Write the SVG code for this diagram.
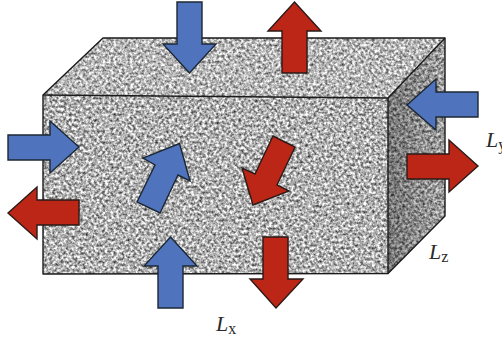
<svg xmlns="http://www.w3.org/2000/svg" width="502" height="343" viewBox="0 0 502 343">
<style>
.blue{fill:#4f74bd;stroke:#1d2733;stroke-width:1.4;stroke-linejoin:miter}
.red{fill:#bb2617;stroke:#2a1a18;stroke-width:1.4;stroke-linejoin:miter}
.edge{stroke:#1a1a1a;stroke-width:1.4;stroke-linejoin:round}
.lab{font-family:"Liberation Serif",serif;font-size:22px;font-style:italic;fill:#2a2a2a}
.sub{font-size:16px;font-style:normal}
</style>
<defs>
<filter id="grain" x="0" y="0" width="100%" height="100%" color-interpolation-filters="sRGB">
<feTurbulence type="fractalNoise" baseFrequency="0.36" numOctaves="2" seed="7"/>
<feColorMatrix type="matrix" values="1.35 0 0 0 0.02  1.35 0 0 0 0.02  1.35 0 0 0 0.02  0 0 0 0 1"/>
<feGaussianBlur stdDeviation="0.7"/>
</filter>
<linearGradient id="side" x1="0" y1="0" x2="1" y2="0">
<stop offset="0" stop-color="#000" stop-opacity="0.34"/>
<stop offset="1" stop-color="#000" stop-opacity="0.1"/>
</linearGradient>
<clipPath id="box"><polygon points="43,95 103,38 445,38 445,216 388,273.5 43,274"/></clipPath>
</defs>
<g id="block">
<g clip-path="url(#box)"><rect x="40" y="35" width="408" height="242" filter="url(#grain)"/></g>
<polygon id="top-face" points="43,95 103,38 445,38 388,98" fill="#fff" fill-opacity="0.08"/>
<polygon id="side-face" points="388,98 445,38 445,216 388,273.5" fill="url(#side)"/>
<polygon class="edge" fill="none" points="43,95 103,38 445,38 445,216 388,273.5 43,274"/>
<path class="edge" fill="none" d="M43,95 L388,98 L388,273.5 M388,98 L445,38"/>
</g>
<g id="connectors">
<polygon id="arrow-top-in" class="blue" points="177,2 202,2 202,44 216,44 189.5,73 163,44 177,44"/>
<polygon id="arrow-top-out" class="red" points="294.5,2 321,31 307,31 307,73 282,73 282,31 268,31"/>
<polygon id="arrow-right-in" class="blue" points="407,105 436,79 436,92 478,92 478,117 436,117 436,130"/>
<polygon id="arrow-right-out" class="red" points="407,154 449,154 449,140 478,166 449,192 449,179 407,179"/>
<polygon id="arrow-left-in" class="blue" points="8,135 50,135 50,121 79,147 50,173 50,160 8,160"/>
<polygon id="arrow-left-out" class="red" points="8,213 37,187 37,200 79,200 79,225 37,225 37,239"/>
<polygon id="arrow-bottom-in" class="blue" points="170.5,237 197,266 183,266 183,308 158,308 158,266 144,266"/>
<polygon id="arrow-bottom-out" class="red" points="263,237 288,237 288,279 303,279 276,308 250,279 263,279"/>
<polygon id="arrow-diag-in" class="blue" points="179.5,143.5 190,181 178,175 160,213 137,202 155,165 143,158"/>
<polygon id="arrow-diag-out" class="red" points="273,136 295,147 277,185 289,191 253,205 242,168 255,174"/>
</g>
<g id="label-x"><text class="lab" x="216" y="331">L<tspan class="sub" dy="3">x</tspan></text></g>
<g id="label-y"><text class="lab" x="486" y="147">L<tspan class="sub" dy="3">y</tspan></text></g>
<g id="label-z"><text class="lab" x="429" y="259">L<tspan class="sub" dy="3">z</tspan></text></g>
</svg>
